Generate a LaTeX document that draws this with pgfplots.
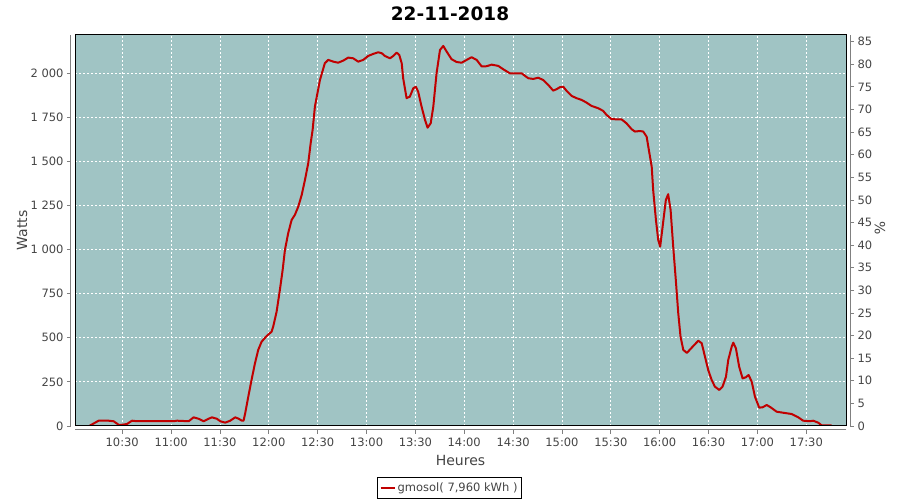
\documentclass[border=0pt]{standalone}
\usepackage{pgfplots}
\pgfplotsset{compat=1.18}
\usepackage{fontspec}
\setmainfont{DejaVu Sans}
\definecolor{bgc}{RGB}{160,196,196}
\definecolor{linec}{RGB}{192,0,0}
\definecolor{txt}{RGB}{68,68,68}
\definecolor{axc}{RGB}{128,128,128}
\begin{document}
\begin{tikzpicture}[x=1pt,y=1pt]
\path[use as bounding box] (0,0) rectangle (900,500);
\begin{axis}[
  at={(75pt,74pt)}, anchor=south west,
  scale only axis, width=771pt, height=391pt,
  xmin=601, xmax=1074.4, ymin=0, ymax=2215,
  axis x line*=bottom, axis y line*=left,
  axis x line shift=4pt, axis y line shift=4pt,
  axis line style={draw=axc, line width=1pt, -},
  xtick={630,660,...,1050},
  xticklabels={10:30,11:00,11:30,12:00,12:30,13:00,13:30,14:00,14:30,15:00,15:30,16:00,16:30,17:00,17:30},
  ytick={0,250,...,2000},
  tick align=outside, major tick length=4pt,
  tick style={draw=axc, line width=0.8pt},
  ticklabel style={font=\fontsize{11.5}{13}\selectfont, text=txt},
  /pgf/number format/assume math mode=true,
  /pgf/number format/1000 sep={\ },
  grid=major, major grid style={white, line width=0.8pt, dash pattern=on 2pt off 2pt},
  axis background/.style={fill=bgc},
  legend style={at={(0.4857,-0.1586)}, anchor=center, draw=black, line width=0.8pt,
    font=\fontsize{11.5}{13}\selectfont, text=txt, inner xsep=2pt, inner ysep=3.5pt},
  legend image code/.code={\draw[#1, line width=2.2pt] (0pt,0pt) -- (14pt,0pt);},
]
\addplot[linec, line width=2pt, line join=round] table {
t W
609.7 0
615.5 30
621.6 30
624.7 27
627.8 7
629.8 7
632.9 11
636.0 30
639.0 27
661.6 27
663.6 30
670.8 27
673.8 49
676.9 41
680.0 27
683.0 41
685.1 49
688.1 41
690.2 27
693.2 19
696.3 30
699.4 49
701.5 41
703.5 30
704.5 30
705.5 72
707.4 166
709.4 261
711.5 355
713.5 431
715.6 478
718.7 510
721.7 534
722.7 563
724.8 648
726.8 771
728.5 884
729.9 997
731.9 1092
734.0 1167
736.0 1196
738.1 1243
740.2 1309
742.2 1394
744.2 1488
745.7 1602
746.9 1677
748.3 1809
751.4 1960
754.4 2055
756.5 2074
759.6 2064
762.6 2058
765.7 2070
768.8 2087
771.8 2083
774.9 2064
778.0 2074
781.0 2096
784.1 2108
787.2 2117
789.3 2112
791.3 2096
794.4 2083
796.4 2096
798.5 2115
800.1 2102
801.6 2055
802.5 1970
804.6 1857
806.6 1866
808.7 1913
810.3 1922
811.7 1894
813.8 1809
815.9 1734
817.5 1690
819.4 1715
821.0 1809
823.0 1998
825.1 2130
827.1 2153
829.2 2121
832.2 2078
835.3 2062
838.4 2058
841.5 2074
844.5 2089
847.6 2074
850.7 2037
853.7 2038
856.8 2047
860.9 2040
863.9 2021
868.0 1998
875.2 1998
879.3 1970
882.4 1966
885.4 1973
888.5 1960
891.6 1932
894.6 1900
896.7 1908
898.7 1919
900.8 1922
902.9 1898
905.9 1870
909.0 1857
912.1 1847
915.1 1832
918.2 1813
922.3 1800
925.3 1785
927.4 1762
930.5 1738
936.6 1737
939.7 1714
942.8 1681
944.8 1668
947.9 1671
949.9 1668
952.0 1639
953.0 1583
955.1 1469
956.0 1337
957.7 1167
959.1 1054
960.3 1016
961.8 1129
963.8 1281
965.2 1313
966.7 1224
968.3 1016
969.9 827
971.4 639
972.8 506
974.5 431
976.7 414
979.8 445
983.7 483
985.8 469
987.8 393
989.8 317
991.9 261
993.9 223
996.6 204
998.6 223
1000.7 279
1002.1 374
1004.2 449
1005.2 472
1006.8 440
1008.8 336
1010.9 270
1012.9 276
1014.6 289
1016.5 251
1018.5 166
1021.1 104
1023.2 106
1025.7 119
1028.1 106
1031.8 81
1035.9 75
1041.0 68
1045.1 49
1048.1 30
1052.2 27
1054.3 30
1057.3 19
1059.4 4
1065.6 4
};
\addlegendentry{gmosol( 7,960 kWh )}
\end{axis}
\begin{axis}[
  at={(75pt,74pt)}, anchor=south west,
  scale only axis, width=771pt, height=391pt,
  xmin=601, xmax=1074.4, ymin=0, ymax=86.48,
  axis x line=none, axis y line*=right, axis y line shift=4pt,
  axis line style={draw=axc, line width=1pt, -},
  ytick={0,5,...,85},
  tick align=outside, major tick length=4pt,
  tick style={draw=axc, line width=0.8pt},
  ticklabel style={font=\fontsize{11.5}{13}\selectfont, text=txt},
  /pgf/number format/assume math mode=true,
]
\end{axis}
\draw[black, line width=1pt] (75,74) rectangle (846,465);
\node[font=\fontsize{18.5}{20}\selectfont\bfseries] at (450,486) {22-11-2018};
\node[font=\fontsize{14}{16}\selectfont, text=txt] at (460.5,40) {Heures};
\node[font=\fontsize{14}{16}\selectfont, text=txt, rotate=90] at (22,269.5) {Watts};
\node[font=\fontsize{14}{16}\selectfont, text=txt, rotate=-90] at (880,272) {\%};
\end{tikzpicture}
\end{document}
